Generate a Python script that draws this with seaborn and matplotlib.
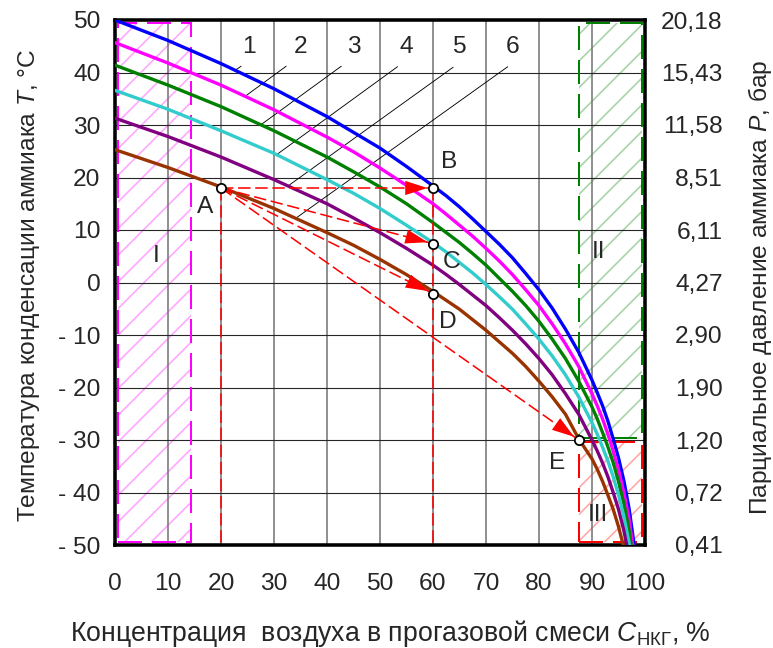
import pandas as pd
import seaborn as sns
import matplotlib.pyplot as plt
from matplotlib.patches import Rectangle

# concentration of air, % and condensation temperature for curves 1..6
conc = [0, 10, 20, 30, 40, 45, 50, 55, 60, 62.5, 65, 67.5, 70, 72.5, 75, 77.5, 80,
        82.5, 85, 87.5, 90, 91, 92, 93, 94, 95, 96, 97, 98]
t1 = [50.0, 46.1, 41.7, 36.9, 31.6, 28.6, 25.6, 22.1, 18.4, 16.5, 14.4, 12.1, 9.7, 7.3, 4.7, 1.7, -1.4,
      -4.9, -8.9, -13.3, -18.6, -21.0, -23.5, -26.4, -29.8, -33.4, -37.7, -43.1, -50.3]
t2 = [45.7, 41.8, 37.6, 32.9, 27.7, 24.9, 21.8, 18.5, 15.0, 13.0, 10.9, 8.8, 6.5, 4.1, 1.5, -1.4, -4.4,
      -7.9, -11.7, -16.0, -21.2, -23.5, -26.0, -28.9, -32.1, -35.7, -40.0, -45.1, -52.3]
t3 = [41.4, 37.6, 33.5, 28.9, 23.9, 21.1, 18.2, 15.0, 11.4, 9.5, 7.6, 5.5, 3.3, 0.8, -1.7, -4.4, -7.4,
      -10.8, -14.5, -18.8, -23.7, -26.0, -28.6, -31.3, -34.3, -37.9, -42.1, -47.2, -54.4]
t4 = [36.6, 33.0, 28.9, 24.6, 19.6, 17.0, 14.1, 10.9, 7.6, 5.8, 3.8, 1.8, -0.4, -2.7, -5.1, -7.9, -10.8,
      -14.0, -17.6, -21.8, -26.7, -28.9, -31.4, -34.0, -37.0, -40.5, -44.5, -49.6, -56.8]
t5 = [31.3, 27.8, 23.9, 19.6, 15.0, 12.3, 9.5, 6.5, 3.3, 1.5, -0.4, -2.4, -4.4, -6.7, -9.1, -11.7, -14.5,
      -17.6, -21.2, -25.1, -30.0, -32.1, -34.4, -37.0, -40.0, -43.2, -47.2, -52.3, -59.5]
t6 = [25.3, 21.9, 18.2, 14.1, 9.5, 7.1, 4.4, 1.5, -1.7, -3.4, -5.1, -7.1, -9.1, -11.3, -13.5, -16.0, -18.8,
      -21.8, -25.1, -29.8, -33.6, -35.6, -37.9, -40.5, -43.2, -46.5, -50.4, -55.5, -62.7]
curve_names = ["1", "2", "3", "4", "5", "6"]
curve_colors = ["#0000ff", "#ff00ff", "#008000", "#33cccc", "#800080", "#993300"]

# process points A..E
pt_names = ["A", "B", "C", "D", "E"]
pt_x = [20, 60, 60, 60, 87.5]
pt_y = [18.0, 18.0, 7.4, -2.1, -30.0]

# left and right axis labels
t_ticks = [-50, -40, -30, -20, -10, 0, 10, 20, 30, 40, 50]
t_labels = ["- 50", "- 40", "- 30", "- 20", "- 10", "0", "10", "20", "30", "40", "50"]
p_labels = ["0,41", "0,72", "1,20", "1,90", "2,90", "4,27", "6,11", "8,51", "11,58", "15,43", "20,18"]

sns.set_style("white")
plt.rcParams["font.family"] = ["Liberation Sans", "DejaVu Sans"]
plt.rcParams["mathtext.fontset"] = "custom"
plt.rcParams["mathtext.rm"] = "Liberation Sans"
plt.rcParams["mathtext.it"] = "Liberation Sans:italic"
plt.rcParams["hatch.linewidth"] = 1.5

fs = 22
fig = plt.figure(figsize=(773 / 80, 648 / 80), dpi=80)
ax = fig.add_axes([115 / 773, 103 / 648, 530 / 773, 525 / 648])

# hatched zones I, II, III
zones = [(0.5, -49.5, 13.9, 99.0, "#ffa8ff", "#ff00ff"),
         (87.5, -29.7, 12.0, 79.2, "#a8d4a8", "#008000"),
         (87.5, -49.5, 12.0, 19.2, "#ffa8a8", "#ff0000")]
for x0, y0, w, h, hc, bc in zones:
    ax.add_patch(Rectangle((x0, y0), w, h, facecolor="none", edgecolor=hc,
                           hatch="/", lw=0, zorder=0.3))
    ax.add_patch(Rectangle((x0, y0), w, h, facecolor="none", edgecolor=bc,
                           lw=1.8, ls=(0, (12, 5)), zorder=1))

df = pd.DataFrame({"C": conc * 6,
                   "T": t1 + t2 + t3 + t4 + t5 + t6,
                   "curve": [n for n in curve_names for _ in conc]})
sns.lineplot(data=df, x="C", y="T", hue="curve", palette=curve_colors,
             sort=False, estimator=None, lw=3.0, legend=False, ax=ax, zorder=3)

# leader lines from curve numbers
lead_from = [(23.8, 41.2), (32.3, 41.2), (42.7, 41.2), (53.3, 41.1), (63.8, 41.0), (74.1, 41.1)]
lead_to = [(22.5, 40.3), (24.6, 35.5), (27.6, 30.1), (30.7, 24.5), (32.8, 18.5), (34.2, 12.3)]
lead_text = [25.2, 35.0, 45.0, 55.0, 64.8, 75.0]
for name, (x0, y0), (x1, y1), tx in zip(curve_names, lead_from, lead_to, lead_text):
    ax.plot([x0, x1], [y0, y1], color="black", lw=0.8, zorder=2.5)
    ax.text(tx, 44.9, name, fontsize=fs, ha="center", va="center")

# red dashed construction lines
red_dash = dict(color="red", lw=1.4, ls=(0, (8, 3)), zorder=4)
ax.plot([pt_x[0], pt_x[0]], [pt_y[0], -50], **red_dash)
ax.plot([pt_x[1], pt_x[1]], [pt_y[1], -50], **red_dash)
for i in range(1, 5):
    ax.plot([pt_x[0], pt_x[i]], [pt_y[0], pt_y[i]], **red_dash)
    dx = pt_x[i] - pt_x[0]
    dy = pt_y[i] - pt_y[0]
    k = 6.0 / (dx ** 2 + dy ** 2) ** 0.5
    ax.annotate("", xy=(pt_x[i], pt_y[i]), xytext=(pt_x[i] - dx * k, pt_y[i] - dy * k),
                arrowprops=dict(arrowstyle="-|>,head_length=1.0,head_width=0.32",
                                mutation_scale=20, color="red", lw=0,
                                shrinkA=0, shrinkB=5), zorder=5)

sns.scatterplot(x=pt_x, y=pt_y, s=70, color="white", edgecolor="black",
                linewidth=1.6, ax=ax, zorder=6)

lbl_x = [17.0, 63.0, 63.5, 62.8, 83.5]
lbl_y = [14.3, 23.0, 3.9, -7.6, -34.3]
for name, x, y in zip(pt_names, lbl_x, lbl_y):
    ax.text(x, y, name, fontsize=fs, ha="center", va="center", zorder=7)
ax.text(7.8, 5.0, "I", fontsize=fs, ha="center", va="center")
ax.text(91.2, 5.8, "II", fontsize=fs, ha="center", va="center")
ax.text(91.2, -44.3, "III", fontsize=fs, ha="center", va="center")

ax.set_xlim(0, 100)
ax.set_ylim(-50, 50)
ax.set_xticks(range(0, 101, 10))
ax.set_yticks(t_ticks)
ax.set_yticklabels(t_labels)
ax.set_xlabel("")
ax.set_ylabel("")
ax.tick_params(length=0, labelsize=fs)
ax.tick_params(axis="x", pad=25)
ax.tick_params(axis="y", pad=13)
ax.xaxis.grid(True, color="0.45", lw=1.4)
ax.yaxis.grid(True, color="0.15", lw=1.0)
ax.set_axisbelow(True)
for sp in ax.spines.values():
    sp.set_color("black")
    sp.set_linewidth(3.2)

ax2 = ax.twinx()
ax2.set_ylim(-50, 50)
ax2.set_yticks(t_ticks)
ax2.set_yticklabels(p_labels, ha="right")
ax2.tick_params(length=0, labelsize=fs, pad=70)
for sp in ax2.spines.values():
    sp.set_visible(False)

fig.text(390 / 773, 1 - 641 / 648, "Концентрация  воздуха в прогазовой смеси $C_{\\mathrm{НКГ}}$, %",
         fontsize=24, ha="center", va="baseline")
fig.text(35 / 773, 1 - 285 / 648, "Температура конденсации аммиака $T$, °C",
         fontsize=fs, ha="center", va="baseline", rotation=90, rotation_mode="anchor")
fig.text(767 / 773, 1 - 287 / 648, "Парциальное давление аммиака $P$, бар",
         fontsize=fs, ha="center", va="baseline", rotation=90, rotation_mode="anchor")

plt.savefig("out.png", dpi=80)
